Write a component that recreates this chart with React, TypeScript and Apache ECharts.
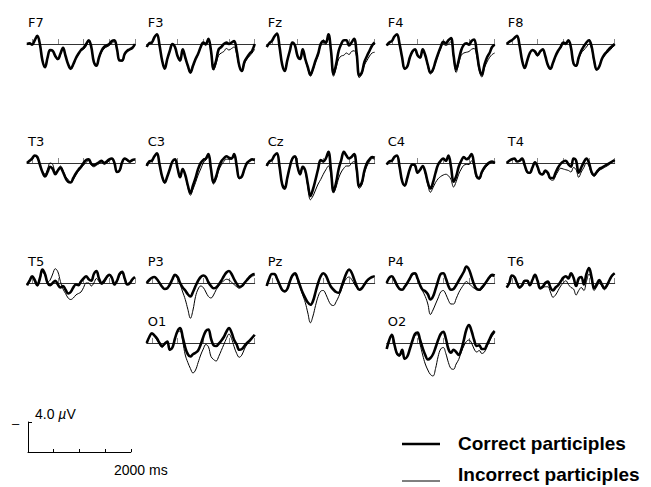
import React, { useEffect, useRef } from "react";
import * as echarts from "echarts";

// time points (ms) shared by all traces
const times = [
  -100, -50, 0, 50, 100, 150, 200, 250, 300, 350, 400,
  450, 500, 550, 600, 650, 700, 750, 800, 850, 900, 950,
  1000, 1050, 1100, 1150, 1200, 1250, 1300, 1350, 1400, 1450, 1500,
  1550, 1600, 1650, 1700, 1750, 1800, 1850, 1900, 1950, 2000,
];
const tickValues = [0, 500, 1000, 1500, 2000];
const scaleTicks = [500, 1000, 1500, 2000];

// amplitudes in µV (negative plotted upward)
const f7Correct = [0, -0.1, 0.1, -0.5, -1.1, 0, 2.2, 3.1, 1.8, 0.8, 0.9, 1.6, 2.0, 1.3, 0.5, 1.6, 2.7, 3.3, 2.7, 1.9, 1.3, 0.8, 0.5, 0, -0.5, 0.4, 2.4, 2.9, 1.8, 0.9, 0.4, 0.2, 0, -0.4, -0.5, 0.7, 2.2, 2.2, 1.3, 0.9, 0.7, 0.5, 0];
const f7Incorrect = [0, -0.1, 0.1, -0.5, -1.0, 0.1, 2.2, 3.1, 1.9, 0.9, 1.0, 1.7, 2.1, 1.4, 0.6, 1.6, 2.7, 3.4, 2.8, 2.0, 1.4, 0.9, 0.7, 0.3, -0.3, 0.5, 2.4, 2.9, 1.9, 1.1, 0.6, 0.4, 0.2, -0.1, -0.3, 0.8, 2.2, 2.3, 1.5, 1.0, 0.8, 0.6, 0.1];
const f3Correct = [0.4, -0.1, -0.2, -0.9, -1.3, 0.2, 2.2, 3.3, 2.0, 0.9, 0, 0.4, 1.6, 2.2, 0.7, 1.8, 2.9, 3.8, 2.9, 2.0, 1.3, 0.4, -0.2, 0, -0.7, 0.9, 3.3, 2.2, 0.7, 0.4, 0, -0.2, 0, -0.2, -0.4, 0.9, 2.9, 3.6, 2.4, 1.8, 1.3, 0.9, 0];
const f3Incorrect = [0.4, -0.1, -0.2, -0.9, -1.2, 0.3, 2.2, 3.3, 2.1, 1.0, 0.1, 0.5, 1.7, 2.3, 0.8, 1.9, 3.0, 3.9, 3.0, 2.1, 1.4, 0.5, 0, 0.2, -0.5, 1.0, 3.5, 2.6, 1.5, 1.2, 1.0, 0.6, 0.8, 0.6, 0.4, 1.4, 3.0, 3.7, 2.6, 2.0, 1.6, 1.2, 0.7];
const fzCorrect = [0.4, -0.1, -0.4, -1.0, -1.4, 0.4, 2.7, 3.6, 2.2, 0.9, -0.2, 0.2, 1.6, 2.0, 0.7, 2.0, 3.1, 4.1, 3.3, 2.2, 1.3, 0, -0.4, -0.2, -1.3, 0.9, 4.0, 2.7, 0.9, 0, -0.5, -0.5, 0.2, -0.2, -0.7, 1.3, 4.2, 3.8, 2.4, 1.6, 0.9, 0.2, -0.2];
const fzIncorrect = [0.4, -0.1, -0.4, -1.0, -1.3, 0.5, 2.7, 3.6, 2.3, 1.0, -0.1, 0.3, 1.7, 2.1, 0.8, 2.1, 3.3, 4.3, 3.5, 2.4, 1.5, 0.2, -0.2, 0, -0.9, 1.0, 4.3, 3.2, 2.0, 1.6, 1.5, 1.2, 1.4, 1.0, 0.9, 1.8, 4.5, 4.0, 2.8, 2.2, 1.6, 1.2, 1.1];
const f4Correct = [0.2, -0.2, -0.4, -1.0, -1.3, 0, 1.8, 3.3, 3.0, 1.8, 1.0, 0.7, 1.5, 1.8, 0.7, 1.5, 2.8, 3.8, 3.4, 2.3, 1.3, 0.4, -0.3, -0.1, -0.5, -0.8, 1.5, 3.4, 2.2, 0.8, 0.1, -0.1, 0.1, -0.4, -0.6, 1.0, 3.2, 4.1, 2.8, 1.8, 1.2, 0.4, 0.1];
const f4Incorrect = [0.2, -0.2, -0.4, -1.0, -1.2, 0.1, 1.9, 3.4, 3.1, 1.9, 1.1, 0.8, 1.6, 1.9, 0.8, 1.6, 3.0, 4.0, 3.6, 2.5, 1.5, 0.6, 0, 0.2, 0, -0.3, 1.8, 3.8, 2.6, 1.5, 1.2, 1.1, 1.0, 0.7, 0.6, 1.6, 3.6, 4.4, 3.2, 2.4, 1.8, 1.4, 1.2];
const f8Correct = [0, -0.3, -0.5, -0.8, -1.1, 0.2, 2.2, 3.2, 2.2, 1.2, 0.8, 1.0, 1.5, 1.0, 0.7, 1.6, 2.8, 3.3, 2.5, 1.6, 0.9, 0.4, -0.2, -0.1, -0.5, 0.5, 2.6, 2.9, 1.8, 0.9, 0.3, -0.2, -0.5, 0.3, 2.2, 3.4, 3.0, 2.0, 1.4, 1.0, 0.6, 0.3, 0];
const f8Incorrect = [0, -0.3, -0.5, -0.8, -1.0, 0.3, 2.2, 3.2, 2.3, 1.3, 0.9, 1.1, 1.6, 1.1, 0.8, 1.7, 2.9, 3.4, 2.6, 1.7, 1.0, 0.5, 0, 0.1, -0.3, 0.6, 2.7, 3.0, 2.0, 1.2, 0.8, 0.4, 0, 0.6, 2.4, 3.5, 3.1, 2.1, 1.6, 1.2, 0.9, 0.5, 0.2];
const t3Correct = [0, -0.3, -0.6, -1.0, -0.8, 0.2, 1.2, 1.8, 1.2, 0.5, 0.8, 1.5, 1.0, 0.6, 1.2, 2.0, 2.5, 2.6, 2.0, 1.4, 0.9, 0.5, 0, -0.4, -0.5, 0.1, 0.3, 0.1, -0.1, -0.3, 0, -0.2, -0.5, -0.6, 0, 1.2, 1.0, -0.1, -0.6, -0.4, -0.2, -0.4, -0.5];
const t3Incorrect = [0, -0.3, -0.5, -0.9, -0.7, 0.3, 1.1, 1.5, 0.8, 0, 0.2, 1.2, 1.0, 0.4, 1.0, 1.8, 2.2, 2.6, 2.2, 1.6, 1.1, 0.7, 0.3, -0.1, -0.3, 0.3, 0.5, 0.3, 0.1, -0.1, 0.2, 0, -0.3, -0.5, 0.1, 1.2, 1.1, 0, -0.5, -0.3, -0.1, -0.3, -0.4];
const c3Correct = [0.4, -0.2, -0.3, -0.9, -1.3, 0.2, 1.8, 2.6, 1.8, 0.8, -0.2, -0.5, 0.7, 1.9, 0.8, 1.6, 3.0, 4.0, 3.0, 2.0, 0.8, 0, -0.4, -0.6, -1.2, 0.8, 2.6, 1.8, 0.6, -0.2, -0.6, -0.9, -0.7, -0.6, -1.2, 0.4, 2.0, 1.8, 0.8, 0, -0.3, -0.5, -0.4];
const c3Incorrect = [0.4, -0.2, -0.3, -0.9, -1.2, 0.3, 1.9, 2.7, 1.9, 0.9, -0.1, -0.4, 0.8, 2.0, 0.9, 1.7, 3.2, 4.3, 3.5, 2.6, 1.6, 0.8, 0, -0.4, -0.8, 1.0, 2.8, 2.2, 1.0, 0.3, -0.2, -0.5, -0.5, -0.5, -1.0, 0.5, 2.1, 1.9, 0.9, 0.1, -0.2, -0.4, -0.3];
const czCorrect = [0.4, -0.2, -0.4, -1.0, -1.3, 0.5, 2.8, 3.4, 2.0, 0.5, -0.6, -0.9, 0.5, 1.5, 0.5, 1.0, 2.8, 4.4, 3.5, 2.2, 0.8, -0.4, -0.2, -0.6, -1.5, 1.0, 3.8, 2.6, 0.8, -0.4, -1.5, -1.0, -0.6, -0.8, -1.2, 0.8, 3.1, 2.6, 1.0, 0, -0.5, -0.8, -0.7];
const czIncorrect = [0.4, -0.2, -0.4, -1.0, -1.2, 0.6, 2.9, 3.5, 2.1, 0.6, -0.5, -0.8, 0.6, 1.6, 0.6, 1.2, 3.2, 4.9, 4.4, 3.6, 2.8, 2.2, 1.5, 0.9, 0.4, 1.6, 4.0, 3.2, 2.0, 1.2, 0.7, 0.4, 0.4, 0, -0.2, 1.2, 3.4, 2.9, 1.4, 0.4, -0.2, -0.6, -0.5];
const c4Correct = [0.2, -0.2, -0.3, -0.8, -1.0, 0.5, 2.4, 3.0, 2.0, 0.8, 0.2, 0.3, 1.3, 0.9, 0.4, 1.2, 2.6, 3.4, 2.6, 1.3, 0.2, -0.3, -0.6, -0.3, -1.0, 0.5, 2.5, 1.8, 0.5, -0.3, -0.8, -0.5, -0.7, -1.2, 0.2, 1.8, 2.0, 1.2, 0.6, 0.2, -0.1, -0.2, 0];
const c4Incorrect = [0.2, -0.2, -0.3, -0.8, -0.9, 0.6, 2.5, 3.1, 2.1, 0.9, 0.3, 0.4, 1.4, 1.0, 0.5, 1.4, 2.9, 3.9, 3.3, 2.6, 2.1, 1.8, 1.6, 1.5, 1.7, 2.2, 3.2, 2.5, 1.5, 0.8, 0.3, 0.2, 0.2, -0.3, 0.6, 2.0, 2.2, 1.4, 0.8, 0.4, 0.1, -0.1, 0];
const t4Correct = [0, -0.3, -0.5, -0.6, -0.2, -0.3, -0.6, 0.3, 1.2, 1.3, 0.6, -0.1, 0.5, 1.4, 1.5, 1.0, 1.3, 2.0, 2.0, 1.3, 0.6, 0.1, -0.2, -0.3, 0.2, 0.5, -0.6, -0.3, 1.3, 0.6, -0.1, -0.6, 0, 1.2, 1.6, 1.2, 0.8, 0.6, 0.4, 0.2, 0, -0.2, -0.4];
const t4Incorrect = [0, -0.3, -0.5, -0.6, -0.2, -0.2, -0.5, 0.4, 1.3, 1.4, 0.7, 0, 0.6, 1.5, 1.6, 1.2, 1.5, 2.2, 2.3, 1.7, 1.1, 0.7, 0.8, 0.9, 1.0, 1.2, 0.6, 0.9, 1.9, 1.2, 0.6, 0, 0.4, 1.4, 1.8, 1.4, 1.0, 0.8, 0.6, 0.4, 0.2, -0.1, -0.3];
const t5Correct = [0.3, -0.3, -0.9, -0.4, 0.3, -0.6, -1.8, -1.2, 0, 0.3, 0, -0.3, 0.2, 0.6, 0.4, 0.9, 1.4, 1.2, 0.6, 0.2, 0.3, -0.2, -0.6, -0.9, -0.5, -0.3, -1.2, -1.6, -0.6, 0, -0.3, -0.8, -1.1, -0.7, 0.2, -0.3, -1.2, -1.5, -0.6, 0.2, 0, -0.5, -0.8];
const t5Incorrect = [0.3, -0.3, -0.8, -0.2, 0.4, -0.4, -1.5, -1.0, -0.1, -0.4, -1.2, -1.9, -1.5, -0.2, 0.8, 1.4, 2.0, 2.2, 2.0, 1.6, 1.4, 1.2, 0.6, 0, 0, 0.4, 0, -0.6, -0.2, 0.2, 0, -0.6, -1.0, -0.6, 0.2, -0.2, -1.0, -1.3, -0.5, 0.2, 0, -0.4, -0.7];
const p3Correct = [0, -0.4, -0.7, -0.8, -0.5, 0, 0.5, 0.8, 0.7, 0.2, -0.5, -1.1, -0.8, 0, 0.6, 1.0, 1.5, 1.8, 1.2, 0.4, -0.3, -0.8, -1.0, -0.8, -0.1, 0.4, 0.7, 0.6, 0.2, -0.3, -0.9, -1.4, -1.6, -1.2, -0.5, 0.1, 0.5, 0.4, 0, -0.4, -0.8, -1.1, -1.2];
const p3Incorrect = [0, -0.4, -0.7, -0.8, -0.5, 0, 0.5, 0.8, 0.7, 0.2, -0.4, -1.0, -0.6, 0.2, 1.2, 2.2, 3.5, 4.7, 3.6, 1.8, 0.8, 0.4, 0.6, 1.2, 1.8, 2.0, 1.6, 0.9, 0.4, 0, -0.3, -0.5, -0.4, -0.1, 0.2, 0.5, 0.7, 0.5, 0.1, -0.3, -0.6, -0.9, -1.0];
const pzCorrect = [0.4, -0.6, -1.2, -1.2, -0.6, 0.2, 0.9, 1.1, 0.8, -0.2, -1.0, -1.3, -0.6, 0.4, 1.3, 2.0, 2.6, 2.9, 2.4, 1.2, 0, -0.9, -1.3, -1.0, -0.2, 0.5, 0.9, 1.2, 1.3, 0.6, -0.4, -1.3, -1.8, -1.4, -0.5, 0.4, 0.9, 0.7, 0.2, -0.3, -0.6, -0.8, -0.9];
const pzIncorrect = [0.4, -0.6, -1.2, -1.1, -0.5, 0.3, 1.0, 1.2, 0.9, -0.1, -0.9, -1.1, -0.4, 0.6, 1.6, 2.6, 4.0, 5.3, 4.4, 3.0, 1.8, 1.1, 1.0, 1.5, 2.3, 2.9, 3.0, 2.5, 1.8, 0.9, 0, -0.6, -0.8, -0.5, 0.1, 0.6, 0.9, 0.7, 0.3, -0.2, -0.5, -0.8, -0.9];
const p4Correct = [0, -0.7, -0.9, -0.4, 0.3, 0.8, 0.9, 0.5, 0, -0.6, -1.2, -1.3, -0.6, 0.3, 0.9, 1.1, 1.5, 2.2, 1.8, 0.8, -0.3, -1.2, -1.3, -0.6, 0.4, 0.9, 0.8, 0.3, -0.3, -0.9, -1.5, -2.2, -1.8, -0.8, 0.2, 0.8, 0.9, 0.6, 0.2, -0.3, -0.8, -1.1, -1.0];
const p4Incorrect = [0, -0.7, -0.9, -0.4, 0.3, 0.8, 0.9, 0.5, 0, -0.5, -1.1, -1.2, -0.5, 0.4, 1.1, 1.8, 2.8, 4.2, 3.6, 2.8, 2.0, 1.2, 1.0, 1.5, 2.3, 2.8, 2.8, 2.1, 1.3, 0.7, 0.2, -0.2, 0.1, 0.4, 0.7, 0.8, 1.0, 0.8, 0.3, -0.2, -0.6, -0.9, -0.8];
const t6Correct = [0.6, 0, -1.0, -0.8, 0, 0.6, 0.3, -0.3, -0.3, 0.3, -0.4, -1.1, -0.3, 0.7, 0.5, 0, -0.2, 0.6, 1.0, 0.6, 0.3, -0.2, -0.7, -0.9, -0.6, -1.3, -0.7, 0.4, -0.6, -0.8, 0.2, -1.2, -2.0, -0.8, 0.7, 0.2, -0.4, 0.2, 0.7, 0.3, -0.4, -1.0, -1.3];
const t6Incorrect = [0.6, 0, -0.9, -0.7, 0.1, 0.7, 0.4, -0.2, -0.2, 0.4, -0.3, -1.0, -0.2, 0.8, 0.6, 0.5, 0.5, 1.2, 1.9, 1.6, 1.0, 0.4, 0, -0.3, 0.2, 0.6, 0.8, 1.6, 1.0, 0.6, 1.0, -0.2, -1.2, -0.4, 1.0, 0.5, 0, 0.4, 0.9, 0.4, -0.3, -0.9, -1.2];
const o1Correct = [0, -0.8, -1.3, -1.0, -0.6, 0, 0.4, 0.1, -0.2, 0.9, 0.6, -0.6, -1.6, -2.0, -0.8, 0.6, 1.5, 1.8, 1.5, 1.3, 1.0, 0.2, -0.8, -1.6, -1.8, -0.6, 0.3, 0.4, 0.1, -0.3, -0.8, -1.5, -2.0, -1.4, -0.4, 0.2, 0.9, 0.8, 0.4, 0, -0.3, -0.7, -1.1];
const o1Incorrect = [0, -0.8, -1.2, -0.9, -0.4, 0.2, 0.6, 0.2, -0.1, 1.0, 0.6, -0.5, -1.4, -1.6, -0.2, 1.6, 2.6, 3.4, 4.0, 3.6, 2.6, 1.6, 0.8, 0.2, 0.5, 1.8, 2.2, 2.4, 1.8, 1.0, 0.2, -0.6, -1.2, -0.6, 0.5, 1.4, 1.9, 1.6, 0.8, 0.2, -0.2, -0.6, -1.0];
const o2Correct = [0.8, -0.4, -1.1, 0.2, 1.4, 1.6, 0.9, 2.1, 1.8, 0.8, -0.3, -1.2, -1.4, -0.4, 0.7, 1.6, 2.2, 2.0, 1.5, 0.6, -0.4, -1.2, -1.5, -0.6, 0.8, 1.3, 0.9, 1.2, 1.6, 0.9, -0.4, -1.8, -2.4, -1.6, -0.4, 0.4, 0.3, 0.8, 0.8, 0.2, -0.5, -1.2, -1.6];
const o2Incorrect = [0.8, -0.4, -1.0, 0.3, 1.6, 1.8, 1.0, 2.2, 1.8, 0.8, -0.2, -1.0, -1.1, 0.2, 1.6, 2.8, 3.6, 4.2, 4.4, 3.4, 1.8, 0.8, 0.6, 1.4, 2.6, 3.4, 3.5, 2.8, 2.2, 1.2, 0.4, -0.2, -0.4, 0, 0.8, 1.2, 1.0, 1.4, 1.2, 0.5, -0.2, -0.9, -1.3];

const seriesNames = ["Correct participles", "Incorrect participles"];
const seriesWidths = [2.6, 1];

// layout
const COL_X = [27, 146.7, 266.7, 386.7, 506.7];
const ROW_Y = [44, 163, 283, 343];
const PX_PER_UV = 7.5;
const Y_MIN = -4;
const Y_MAX = 8;
const T_MIN = -100;
const T_MAX = 2000;
const PANEL_W = 108;

const panels = [
  { name: "F7", c: f7Correct, i: f7Incorrect, col: 0, row: 0 },
  { name: "F3", c: f3Correct, i: f3Incorrect, col: 1, row: 0 },
  { name: "Fz", c: fzCorrect, i: fzIncorrect, col: 2, row: 0 },
  { name: "F4", c: f4Correct, i: f4Incorrect, col: 3, row: 0 },
  { name: "F8", c: f8Correct, i: f8Incorrect, col: 4, row: 0 },
  { name: "T3", c: t3Correct, i: t3Incorrect, col: 0, row: 1 },
  { name: "C3", c: c3Correct, i: c3Incorrect, col: 1, row: 1 },
  { name: "Cz", c: czCorrect, i: czIncorrect, col: 2, row: 1 },
  { name: "C4", c: c4Correct, i: c4Incorrect, col: 3, row: 1 },
  { name: "T4", c: t4Correct, i: t4Incorrect, col: 4, row: 1 },
  { name: "T5", c: t5Correct, i: t5Incorrect, col: 0, row: 2 },
  { name: "P3", c: p3Correct, i: p3Incorrect, col: 1, row: 2 },
  { name: "Pz", c: pzCorrect, i: pzIncorrect, col: 2, row: 2 },
  { name: "P4", c: p4Correct, i: p4Incorrect, col: 3, row: 2 },
  { name: "T6", c: t6Correct, i: t6Incorrect, col: 4, row: 2 },
  { name: "O1", c: o1Correct, i: o1Incorrect, col: 1, row: 3 },
  { name: "O2", c: o2Correct, i: o2Incorrect, col: 3, row: 3 },
];

const LABEL_FONT = "DejaVu Sans, Verdana, sans-serif";
const TEXT_FONT = "Liberation Sans, Arial, sans-serif";

function buildOption() {
  const grid: any[] = [];
  const xAxis: any[] = [];
  const yAxis: any[] = [];
  const series: any[] = [];
  const graphic: any[] = [];

  panels.forEach((p, idx) => {
    const left = COL_X[p.col];
    const axisY = ROW_Y[p.row];
    grid.push({
      left,
      top: axisY + Y_MIN * PX_PER_UV,
      width: PANEL_W,
      height: (Y_MAX - Y_MIN) * PX_PER_UV,
      containLabel: false,
    });
    xAxis.push({
      gridIndex: idx,
      type: "value",
      min: T_MIN,
      max: T_MAX,
      axisLine: { show: true, onZero: true, lineStyle: { color: "#333", width: 1 } },
      axisTick: {
        show: true,
        inside: true,
        length: 5,
        customValues: tickValues,
        lineStyle: { color: "#888", width: 1 },
      },
      axisLabel: { show: false },
      splitLine: { show: false },
    });
    yAxis.push({
      gridIndex: idx,
      type: "value",
      min: Y_MIN,
      max: Y_MAX,
      inverse: true,
      axisLine: { show: false },
      axisTick: { show: false },
      axisLabel: { show: false },
      splitLine: { show: false },
    });
    series.push({
      name: seriesNames[1],
      type: "line",
      xAxisIndex: idx,
      yAxisIndex: idx,
      data: times.map((t, k) => [t, p.i[k]]),
      symbol: "none",
      smooth: 0.4,
      silent: true,
      clip: false,
      itemStyle: { color: "#000" },
      lineStyle: { color: "#000", width: seriesWidths[1] },
      z: 2,
    });
    series.push({
      name: seriesNames[0],
      type: "line",
      xAxisIndex: idx,
      yAxisIndex: idx,
      data: times.map((t, k) => [t, p.c[k]]),
      symbol: "none",
      smooth: 0.4,
      silent: true,
      clip: false,
      itemStyle: { color: "#000" },
      lineStyle: { color: "#000", width: seriesWidths[0] },
      z: 3,
    });
    graphic.push({
      type: "text",
      x: left + 1,
      y: axisY - 22,
      style: {
        text: p.name,
        font: `13px ${LABEL_FONT}`,
        fill: "#000",
        verticalAlign: "middle",
      },
    });
  });

  // calibration / scale bar
  const sIdx = panels.length;
  grid.push({ left: 28, top: 422, width: (2000 * PANEL_W) / (T_MAX - T_MIN), height: 4 * PX_PER_UV });
  xAxis.push({
    gridIndex: sIdx,
    type: "value",
    min: 0,
    max: 2000,
    axisLine: { show: true, onZero: false, lineStyle: { color: "#000", width: 1 } },
    axisTick: { show: true, inside: true, length: 3, customValues: scaleTicks, lineStyle: { color: "#000" } },
    axisLabel: { show: false },
    splitLine: { show: false },
  });
  yAxis.push({
    gridIndex: sIdx,
    type: "value",
    min: 0,
    max: 4,
    axisLine: { show: true, onZero: false, lineStyle: { color: "#000", width: 1 } },
    axisTick: { show: true, inside: true, length: 4, customValues: [4], lineStyle: { color: "#000" } },
    axisLabel: { show: false },
    splitLine: { show: false },
  });
  graphic.push(
    {
      type: "text",
      x: 35,
      y: 414,
      style: {
        text: "4.0 {m|µ}V",
        font: `14px ${TEXT_FONT}`,
        fill: "#000",
        verticalAlign: "middle",
        rich: { m: { fontStyle: "italic", fontSize: 14, fontFamily: TEXT_FONT } },
      },
    },
    {
      type: "text",
      x: 12,
      y: 423,
      style: { text: "–", font: `13px ${TEXT_FONT}`, fill: "#000", verticalAlign: "middle" },
    },
    {
      type: "text",
      x: 114,
      y: 470,
      style: { text: "2000 ms", font: `14px ${TEXT_FONT}`, fill: "#000", verticalAlign: "middle" },
    }
  );

  // legend (drawn as graphic so the line samples match the traces)
  const legendLineY = [444, 481];
  const legendTextY = [443, 474];
  seriesNames.forEach((nm, k) => {
    graphic.push(
      {
        type: "line",
        shape: { x1: 402, y1: legendLineY[k], x2: 440, y2: legendLineY[k] },
        style: { stroke: "#000", lineWidth: seriesWidths[k] },
      },
      {
        type: "text",
        x: 458,
        y: legendTextY[k],
        style: {
          text: nm,
          font: `bold 19px ${TEXT_FONT}`,
          fill: "#000",
          verticalAlign: "middle",
        },
      }
    );
  });

  return {
    animation: false,
    backgroundColor: "#fff",
    grid,
    xAxis,
    yAxis,
    series,
    graphic,
  };
}

export default function App() {
  const ref = useRef<HTMLDivElement>(null);
  useEffect(() => {
    document.body.style.margin = "0";
    if (!ref.current) return;
    const chart = echarts.init(ref.current, undefined, { renderer: "svg" });
    chart.setOption(buildOption() as any);
    return () => chart.dispose();
  }, []);
  return <div ref={ref} style={{ width: 651, height: 487 }} />;
}
